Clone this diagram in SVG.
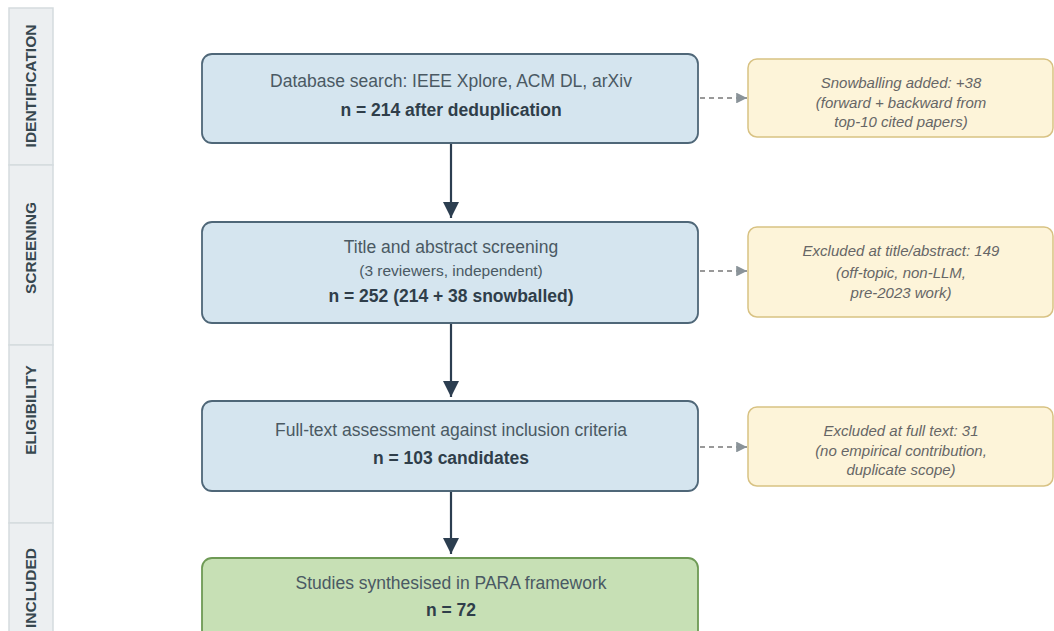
<svg xmlns="http://www.w3.org/2000/svg" width="1054" height="631" viewBox="0 0 1054 631">
<defs>
<style>
.band{fill:#eceff1;stroke:#d5dbde;stroke-width:1.5}
.bandtxt{font-family:"Liberation Sans",Arial,sans-serif;font-size:15.5px;font-weight:bold;fill:#37474f;text-anchor:middle}
.main{fill:#d5e5ef;stroke:#4f6778;stroke-width:1.8}
.final{fill:#c7e0b5;stroke:#6e9a55;stroke-width:1.8}
.side{fill:#fdf4d9;stroke:#d8c283;stroke-width:1.5}
.t{font-family:"Liberation Sans",Arial,sans-serif;font-size:17.5px;fill:#4a5963;text-anchor:middle}
.ts{font-family:"Liberation Sans",Arial,sans-serif;font-size:15.5px;fill:#4a5963;text-anchor:middle}
.tb{font-family:"Liberation Sans",Arial,sans-serif;font-size:17.5px;font-weight:bold;fill:#2f3e4a;text-anchor:middle}
.ti{font-family:"Liberation Sans",Arial,sans-serif;font-size:15px;font-style:italic;fill:#666;text-anchor:middle}
.flow{stroke:#2c3e50;stroke-width:2.2;fill:none}
.dash{stroke:#999;stroke-width:1.8;stroke-dasharray:5 4;fill:none}
</style>
<marker id="ah" viewBox="0 0 10 10" refX="10" refY="5" markerWidth="7.5" markerHeight="7.5" markerUnits="strokeWidth" orient="auto">
<path d="M0,0 L10,5 L0,10 z" fill="#2c3e50"/>
</marker>
<marker id="ahg" viewBox="0 0 10 10" refX="10" refY="5" markerWidth="6" markerHeight="6" markerUnits="strokeWidth" orient="auto">
<path d="M0,0 L10,5 L0,10 z" fill="#8a9399"/>
</marker>
</defs>
<g id="stages">
<rect class="band" x="9" y="8" width="44" height="157"/>
<rect class="band" x="9" y="165" width="44" height="180"/>
<rect class="band" x="9" y="345" width="44" height="178"/>
<rect class="band" x="9" y="523" width="44" height="120"/>
<text class="bandtxt" transform="translate(36,86) rotate(-90)">IDENTIFICATION</text>
<text class="bandtxt" transform="translate(36,248) rotate(-90)">SCREENING</text>
<text class="bandtxt" transform="translate(36,410) rotate(-90)">ELIGIBILITY</text>
<text class="bandtxt" transform="translate(36,588) rotate(-90)">INCLUDED</text>
</g>
<g id="connectors">
<line class="flow" x1="451" y1="143" x2="451" y2="218" marker-end="url(#ah)"/>
<line class="flow" x1="451" y1="323" x2="451" y2="397" marker-end="url(#ah)"/>
<line class="flow" x1="451" y1="492" x2="451" y2="554" marker-end="url(#ah)"/>
<line class="dash" x1="700" y1="98" x2="747" y2="98" marker-end="url(#ahg)"/>
<line class="dash" x1="700" y1="271" x2="747" y2="271" marker-end="url(#ahg)"/>
<line class="dash" x1="700" y1="447" x2="747" y2="447" marker-end="url(#ahg)"/>
</g>
<g id="node-identification">
<rect class="main" x="202" y="54" width="496" height="89" rx="10"/>
<text class="t" x="451" y="87">Database search: IEEE Xplore, ACM DL, arXiv</text>
<text class="tb" x="451" y="116">n = 214 after deduplication</text>
</g>
<g id="node-snowball">
<rect class="side" x="748" y="59" width="305" height="78" rx="9"/>
<text class="ti" x="901" y="88">Snowballing added: +38</text>
<text class="ti" x="901" y="108">(forward + backward from</text>
<text class="ti" x="901" y="127">top-10 cited papers)</text>
</g>
<g id="node-screening">
<rect class="main" x="202" y="222" width="496" height="101" rx="10"/>
<text class="t" x="451" y="253">Title and abstract screening</text>
<text class="ts" x="451" y="276">(3 reviewers, independent)</text>
<text class="tb" x="451" y="302">n = 252 (214 + 38 snowballed)</text>
</g>
<g id="node-excluded-title">
<rect class="side" x="748" y="227" width="305" height="90" rx="9"/>
<text class="ti" x="901" y="256">Excluded at title/abstract: 149</text>
<text class="ti" x="901" y="278">(off-topic, non-LLM,</text>
<text class="ti" x="901" y="298">pre-2023 work)</text>
</g>
<g id="node-eligibility">
<rect class="main" x="202" y="401" width="496" height="90" rx="10"/>
<text class="t" x="451" y="436">Full-text assessment against inclusion criteria</text>
<text class="tb" x="451" y="464">n = 103 candidates</text>
</g>
<g id="node-excluded-full">
<rect class="side" x="748" y="407" width="305" height="79" rx="9"/>
<text class="ti" x="901" y="436">Excluded at full text: 31</text>
<text class="ti" x="901" y="456">(no empirical contribution,</text>
<text class="ti" x="901" y="475">duplicate scope)</text>
</g>
<g id="node-included">
<rect class="final" x="202" y="558" width="496" height="90" rx="10"/>
<text class="t" x="451" y="589">Studies synthesised in PARA framework</text>
<text class="tb" x="451" y="616">n = 72</text>
</g>
</svg>
